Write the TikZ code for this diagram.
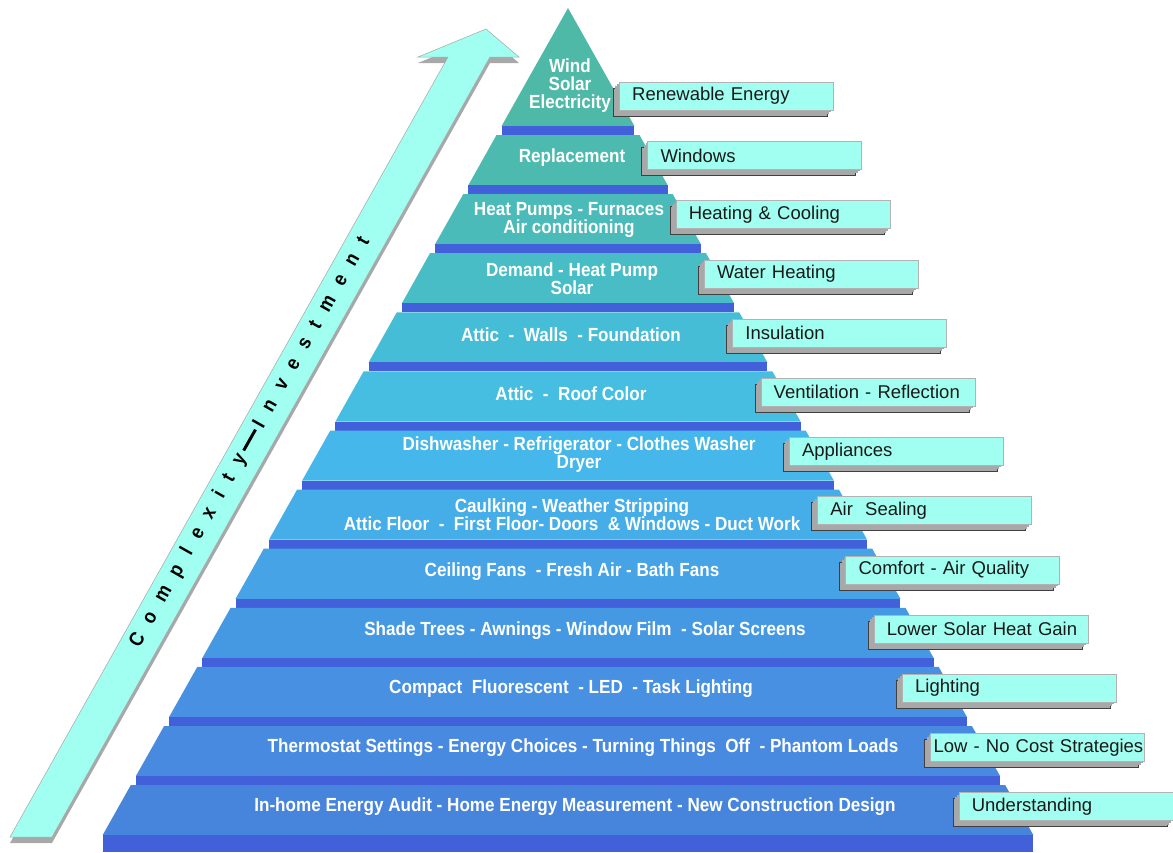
\documentclass[tikz,border=0pt]{standalone}
\usepackage{fontspec}
\setmainfont{Liberation Sans}
\newfontfamily\narrowsans{Liberation Sans}[FakeStretch=0.9]
\usetikzlibrary{shadows}

\definecolor{lay0}{HTML}{4FB9A8}
\definecolor{lay1}{HTML}{4CBAAE}
\definecolor{lay2}{HTML}{4ABBB8}
\definecolor{lay3}{HTML}{48BDC6}
\definecolor{lay4}{HTML}{46BDD6}
\definecolor{lay5}{HTML}{46BEE1}
\definecolor{lay6}{HTML}{46B7EA}
\definecolor{lay7}{HTML}{45ADE8}
\definecolor{lay8}{HTML}{45A3E6}
\definecolor{lay9}{HTML}{4599E3}
\definecolor{lay10}{HTML}{4790E2}
\definecolor{lay11}{HTML}{478AE0}
\definecolor{lay12}{HTML}{4785DD}
\definecolor{stripblue}{HTML}{4160DA}
\definecolor{boxcyan}{HTML}{A0FFF0}
\definecolor{bevelgray}{HTML}{A8A8A8}

\newcommand{\gapA}{\hspace{13.5pt}}

\begin{document}
\begin{tikzpicture}[
    x=1pt, y=-1pt,
    face/.style={fill=#1},
    strip/.style={fill=stripblue},
    layertxt/.style={text=white, align=center, inner sep=0pt, font=\narrowsans\bfseries\fontsize{19}{18}\selectfont},
    lblbox/.style={fill=boxcyan, draw=gray!60, line width=0.4pt, anchor=north west, text width=188pt, inner xsep=13pt, inner ysep=0pt, minimum height=28pt, align=left, text=black!90, font=\fontsize{18.5}{20}\selectfont,
        drop shadow={shadow xshift=-6pt, shadow yshift=-6pt, fill=bevelgray, draw=gray!50!black, line width=0.4pt, opacity=1},
        drop shadow={shadow xshift=-4pt, shadow yshift=-4pt, fill=bevelgray, opacity=1},
        drop shadow={shadow xshift=-2pt, shadow yshift=-2pt, fill=bevelgray, opacity=1}},
    risearrow/.style={fill=boxcyan, draw=gray!70, line width=0.5pt}
]

% Page
\path[fill=white, use as bounding box] (0,0) rectangle (1173,852);

% Rising arrow along the left side
\fill[bevelgray] (10,843) -- (448,63) -- (418,63) -- (486,35) -- (519,63) -- (490,63) -- (52,843) -- cycle;
\filldraw[risearrow] (10,837) -- (448,57) -- (418,57) -- (486,29) -- (519,57) -- (490,57) -- (52,837) -- cycle;
\node[rotate=60.5, inner sep=0pt, font=\narrowsans\bfseries\fontsize{20}{20}\selectfont] (cplx) at (250,442)
    {C\gapA o\gapA m\gapA p\gapA l\gapA e\gapA x\gapA i\gapA t\gapA y\hspace{5pt}\rule[5pt]{24pt}{3pt}\hspace{4pt}I\gapA n\gapA v\gapA e\gapA s\gapA t\gapA m\gapA e\gapA n\gapA t};

% Pyramid layers (face + dark step below)
\fill[face=lay0] (568,8) -- (634.4,126) -- (501.6,126) -- cycle;
\fill[strip] (501.6,126) rectangle (634.4,135);
\fill[face=lay1] (496.5,135) -- (639.5,135) -- (667.6,185.1) -- (468.4,185.1) -- cycle;
\fill[strip] (468.4,185.1) rectangle (667.6,194.1);
\fill[face=lay2] (463.3,194.1) -- (672.7,194.1) -- (700.9,244.2) -- (435.1,244.2) -- cycle;
\fill[strip] (435.1,244.2) rectangle (700.9,253.2);
\fill[face=lay3] (430.0,253.2) -- (706.0,253.2) -- (734.1,303.3) -- (401.9,303.3) -- cycle;
\fill[strip] (401.9,303.3) rectangle (734.1,312.3);
\fill[face=lay4] (396.8,312.3) -- (739.2,312.3) -- (767.4,362.4) -- (368.6,362.4) -- cycle;
\fill[strip] (368.6,362.4) rectangle (767.4,371.4);
\fill[face=lay5] (363.6,371.4) -- (772.4,371.4) -- (800.6,421.5) -- (335.4,421.5) -- cycle;
\fill[strip] (335.4,421.5) rectangle (800.6,430.5);
\fill[face=lay6] (330.3,430.5) -- (805.7,430.5) -- (833.9,480.6) -- (302.1,480.6) -- cycle;
\fill[strip] (302.1,480.6) rectangle (833.9,489.6);
\fill[face=lay7] (297.1,489.6) -- (838.9,489.6) -- (867.1,539.7) -- (268.9,539.7) -- cycle;
\fill[strip] (268.9,539.7) rectangle (867.1,548.7);
\fill[face=lay8] (263.8,548.7) -- (872.2,548.7) -- (900.4,598.8) -- (235.6,598.8) -- cycle;
\fill[strip] (235.6,598.8) rectangle (900.4,607.8);
\fill[face=lay9] (230.6,607.8) -- (905.4,607.8) -- (933.6,657.9) -- (202.4,657.9) -- cycle;
\fill[strip] (202.4,657.9) rectangle (933.6,666.9);
\fill[face=lay10] (197.3,666.9) -- (938.7,666.9) -- (966.9,717.0) -- (169.1,717.0) -- cycle;
\fill[strip] (169.1,717.0) rectangle (966.9,726.0);
\fill[face=lay11] (164.1,726.0) -- (971.9,726.0) -- (1000.1,776.1) -- (135.9,776.1) -- cycle;
\fill[strip] (135.9,776.1) rectangle (1000.1,785.1);
\fill[face=lay12] (130.8,785.1) -- (1005.2,785.1) -- (1033.4,835.2) -- (102.6,835.2) -- cycle;
\fill[strip] (102.6,835.2) rectangle (1033.4,852);

% Layer contents
\node[layertxt] (wind) at (570,86) {Wind\\Solar\\Electricity};
\node[layertxt] (replace) at (572,158) {Replacement};
\node[layertxt] (heatpump) at (569,220) {Heat Pumps - Furnaces\\Air conditioning};
\node[layertxt] (demand) at (572,279) {Demand - Heat Pump\\Solar};
\node[layertxt] (attwall) at (571,335) {Attic~~-~~Walls~~- Foundation};
\node[layertxt] (attroof) at (571,394) {Attic~~-~~Roof Color};
\node[layertxt] (dishw) at (579,455) {Dishwasher - Refrigerator - Clothes Washer\\Dryer};
\node[layertxt] (caulk) at (572,515) {Caulking - Weather Stripping\\Attic Floor~~-~~First Floor- Doors~~\& Windows - Duct Work};
\node[layertxt] (fans) at (572,572) {Ceiling Fans~~- Fresh Air - Bath Fans};
\node[layertxt] (shade) at (585,631) {Shade Trees - Awnings - Window Film~~- Solar Screens};
\node[layertxt] (lamps) at (571,689) {Compact~~Fluorescent~~- LED~~- Task Lighting};
\node[layertxt] (thermo) at (583,748) {Thermostat Settings - Energy Choices - Turning Things~~Off~~- Phantom Loads};
\node[layertxt] (audit) at (575,807) {In-home Energy Audit - Home Energy Measurement - New Construction Design};

% Category labels
\node[lblbox] (renewbox) at (619,82) {Renewable Energy};
\node[lblbox] (windowbox) at (647.3,141.2) {Windows};
\node[lblbox] (hvacbox) at (675.6,200.4) {Heating \& Cooling};
\node[lblbox] (waterbox) at (703.9,259.6) {Water Heating};
\node[lblbox] (insulbox) at (732.2,318.8) {Insulation};
\node[lblbox] (ventbox) at (760.5,378) {\mbox{Ventilation - Reflection}};
\node[lblbox] (applbox) at (788.8,437.2) {Appliances};
\node[lblbox] (sealbox) at (817.1,496.4) {Air~~Sealing};
\node[lblbox] (comfbox) at (845.4,555.6) {Comfort - Air Quality};
\node[lblbox] (gainbox) at (873.7,614.8) {\mbox{Lower Solar Heat Gain}};
\node[lblbox] (lightbox) at (902,674) {Lighting};
\node[lblbox, inner xsep=3pt, text width=208pt] (costbox) at (930.3,733.2) {\mbox{Low - No Cost Strategies}};
\node[lblbox] (undbox) at (958.6,792.4) {Understanding};

\end{tikzpicture}
\end{document}
